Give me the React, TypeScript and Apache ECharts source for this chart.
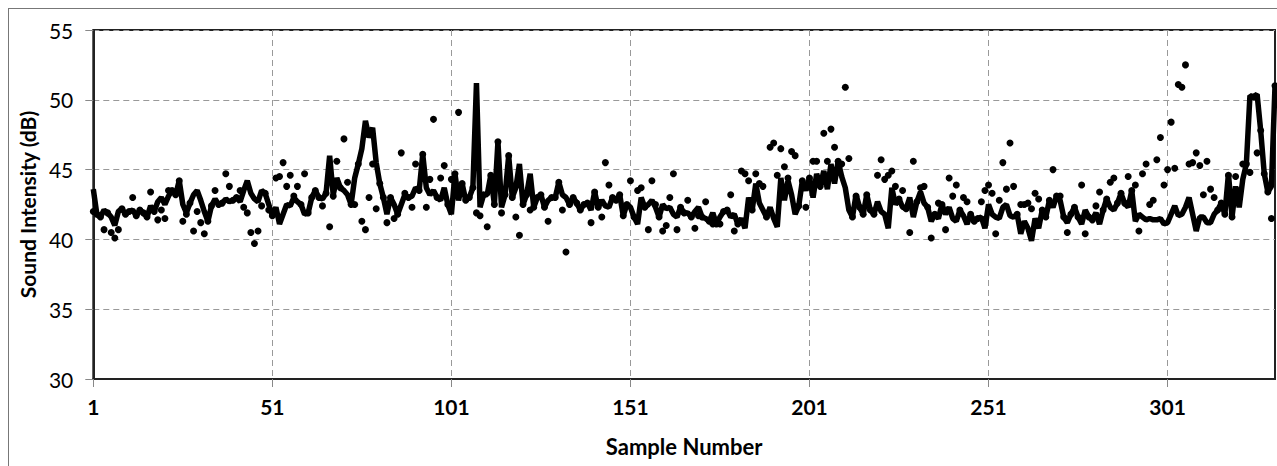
import { useEffect, useRef } from "react";
import * as echarts from "echarts";

const sampleNumbers: string[] = Array.from({ length: 331 }, (_, i) => String(i + 1));

const lineValues: number[] = [
  43.6, 41.8, 41.6, 42.1, 41.9, 41.6, 41.0, 42.0, 42.2, 41.8,
  42.0, 42.1, 41.7, 42.1, 41.9, 41.6, 42.4, 42.0, 42.7, 43.0,
  42.5, 43.1, 43.5, 43.2, 44.2, 42.5, 41.9, 42.6, 43.2, 43.5,
  42.8, 42.0, 41.3, 42.4, 42.9, 42.5, 42.6, 42.9, 42.7, 42.8,
  43.0, 42.7, 43.5, 44.2, 43.3, 42.9, 42.7, 43.5, 43.3, 42.5,
  41.7, 42.3, 41.1, 41.8, 42.5, 42.4, 43.0, 42.7, 42.5, 41.8,
  41.9, 43.0, 43.5, 43.0, 42.9, 43.3, 46.0, 43.2, 44.4, 43.7,
  43.5, 43.2, 42.5, 44.4, 45.4, 46.5, 48.5, 47.3, 48.0, 45.5,
  44.0, 43.0, 41.8, 43.0, 42.5, 41.8, 42.5, 43.2, 43.0, 43.1,
  43.7, 43.5, 46.1, 43.7, 43.2, 43.5, 43.0, 42.8, 43.7, 42.5,
  41.8, 44.7, 42.8, 44.0, 42.8, 43.0, 43.7, 51.2, 42.3, 43.2,
  43.2, 44.6, 42.5, 47.0, 42.3, 43.2, 46.0, 43.0, 43.7, 45.4,
  42.5, 43.2, 44.7, 42.3, 43.0, 43.2, 42.3, 42.8, 43.0, 43.0,
  44.1, 43.2, 43.0, 42.5, 43.0, 42.6, 42.1, 42.5, 42.6, 42.1,
  43.4, 42.3, 42.8, 42.4, 42.3, 43.0, 42.8, 43.2, 41.7, 42.5,
  42.3, 41.6, 41.1, 43.0, 42.3, 42.5, 42.8, 42.3, 41.6, 42.5,
  42.2, 42.3, 41.8, 41.6, 42.3, 41.9, 41.9, 41.6, 42.0, 42.3,
  41.6, 41.5, 41.3, 41.9, 41.1, 41.6, 42.0, 42.1, 41.6, 41.8,
  41.1, 41.5, 40.8, 43.0, 42.1, 44.0, 42.6, 42.1, 41.6, 42.3,
  41.5, 40.9, 44.4, 42.8, 44.2, 43.2, 41.8, 42.4, 44.2, 43.5,
  44.4, 43.0, 44.7, 43.8, 44.9, 43.6, 45.4, 44.0, 45.6, 44.5,
  43.7, 42.1, 41.6, 43.2, 42.3, 41.8, 43.2, 42.1, 41.8, 42.7,
  42.0, 41.8, 40.8, 43.7, 42.5, 42.9, 42.3, 42.2, 43.0, 41.6,
  42.7, 43.4, 42.6, 42.3, 41.3, 41.8, 41.5, 42.5, 41.8, 42.3,
  41.5, 41.3, 42.1, 41.7, 41.1, 41.8, 41.3, 41.5, 41.6, 40.8,
  42.5, 41.8, 41.6, 41.5, 42.3, 42.5, 41.7, 41.6, 41.8, 40.4,
  41.3, 40.8, 39.9, 41.5, 40.8, 42.1, 41.6, 42.8, 42.3, 43.1,
  42.8, 41.6, 41.2, 41.8, 42.3, 41.6, 41.1, 42.1, 41.6, 41.4,
  41.9, 41.1, 42.1, 42.9, 42.3, 42.1, 42.6, 43.3, 42.6, 42.3,
  43.5, 41.3, 41.8, 41.6, 41.4, 41.5, 41.4, 41.4, 41.5, 41.1,
  41.2, 41.8, 42.4, 41.7, 41.8, 42.3, 43.0, 41.8, 40.6, 41.6,
  41.6, 41.2, 41.2, 41.8, 42.1, 42.6, 41.8, 44.7, 41.6, 43.8,
  42.3, 44.3, 45.4, 50.3, 50.2, 50.4, 47.8, 44.7, 43.4, 43.8, 51.0,
];

const dotValues: number[] = [
  42.0, 41.8, 41.6, 40.7, 41.9, 40.5, 40.1, 40.7, 42.2, 41.8,
  42.0, 43.0, 41.7, 42.1, 41.9, 41.6, 43.4, 42.0, 41.4, 42.1,
  41.5, 43.5, 43.5, 43.2, 44.2, 41.3, 41.8, 42.6, 40.6, 42.0,
  41.2, 40.4, 41.3, 42.4, 43.5, 42.5, 42.6, 44.7, 43.8, 42.8,
  43.0, 43.5, 42.3, 41.9, 40.5, 39.7, 40.6, 42.4, 43.3, 42.1,
  41.7, 44.4, 44.5, 45.5, 43.8, 44.6, 43.1, 43.8, 42.5, 44.7,
  41.9, 43.0, 43.5, 43.0, 42.4, 43.3, 40.9, 43.1, 45.6, 43.7,
  47.2, 44.1, 42.5, 42.5, 45.4, 41.3, 40.7, 43.0, 45.4, 42.2,
  44.0, 43.0, 41.2, 43.0, 41.5, 41.8, 46.2, 43.3, 43.0, 42.3,
  45.4, 43.5, 46.1, 42.3, 44.3, 48.6, 43.0, 44.4, 45.3, 42.5,
  44.3, 44.7, 49.1, 44.0, 42.8, 43.0, 43.7, 41.9, 41.7, 43.2,
  40.9, 44.6, 42.5, 47.0, 41.9, 43.2, 46.0, 43.0, 41.6, 40.3,
  42.5, 43.2, 42.1, 42.3, 43.0, 43.2, 42.3, 41.3, 43.0, 43.0,
  44.1, 42.1, 39.1, 42.5, 43.0, 42.6, 42.1, 42.5, 42.6, 41.2,
  43.4, 42.3, 41.6, 45.5, 43.9, 43.0, 42.8, 43.2, 41.7, 42.5,
  44.2, 41.6, 43.5, 43.7, 42.3, 40.7, 44.2, 42.5, 41.6, 40.6,
  41.0, 43.0, 44.7, 40.7, 42.3, 41.9, 42.8, 41.6, 40.8, 41.7,
  41.6, 42.7, 41.3, 41.1, 41.1, 41.1, 42.0, 42.1, 43.2, 40.6,
  41.1, 44.9, 44.7, 44.2, 42.1, 44.7, 44.0, 43.8, 41.6, 46.6,
  46.9, 44.6, 46.5, 45.2, 44.4, 46.3, 46.0, 42.4, 44.2, 42.3,
  44.4, 45.6, 45.6, 43.8, 47.6, 45.6, 47.9, 46.6, 45.6, 45.4,
  50.9, 45.8, 41.6, 43.1, 42.3, 41.8, 43.2, 42.1, 41.8, 44.6,
  45.7, 44.3, 44.6, 44.9, 43.8, 42.9, 43.5, 42.2, 40.5, 45.6,
  42.7, 43.7, 43.8, 42.3, 40.1, 41.8, 42.6, 42.5, 40.7, 44.4,
  43.1, 43.9, 42.1, 43.0, 42.7, 41.8, 41.3, 41.5, 42.7, 43.5,
  43.9, 43.3, 40.4, 42.8, 45.5, 43.6, 46.9, 43.8, 41.8, 42.5,
  42.5, 42.6, 42.2, 43.3, 42.9, 42.1, 41.6, 42.8, 45.0, 43.1,
  43.1, 41.6, 40.5, 41.8, 42.3, 41.6, 43.9, 40.4, 41.6, 41.4,
  42.4, 43.4, 42.1, 42.9, 44.1, 44.4, 42.6, 43.3, 42.6, 44.5,
  43.5, 43.9, 40.6, 44.7, 45.4, 42.5, 42.8, 45.7, 47.3, 43.9,
  45.0, 48.4, 45.1, 51.1, 50.9, 52.5, 45.4, 45.5, 46.2, 45.3,
  43.2, 45.6, 43.6, 43.0, 42.1, 42.6, 41.8, 44.6, 41.6, 44.5,
  43.5, 45.4, 45.4, 44.8, 50.2, 46.2, 47.8, 44.7, 43.4, 41.5, 51.0,
];

const yMin = 30;
const yMax = 55;
const yStep = 5;
const xLabelEvery = 50;

const FONT = "Lato, 'Open Sans', sans-serif";
const everyFifty = (index: number) => index % xLabelEvery === 0;

export default function App() {
  const ref = useRef<HTMLDivElement>(null);

  useEffect(() => {
    if (!ref.current) return;
    const chart = echarts.init(ref.current, null, { renderer: "svg" });
    chart.setOption({
      animation: false,
      backgroundColor: "#ffffff",
      textStyle: { fontFamily: FONT },
      grid: {
        left: 84.3,
        top: 21,
        width: 1181.7,
        height: 349,
        show: true,
        borderColor: "#222",
        borderWidth: 2,
        backgroundColor: "transparent",
      },
      xAxis: {
        type: "category",
        data: sampleNumbers,
        boundaryGap: false,
        name: "Sample Number",
        nameLocation: "middle",
        nameGap: 56,
        nameTextStyle: { fontFamily: FONT, fontSize: 22, fontWeight: "bold", color: "#000" },
        axisLine: { lineStyle: { color: "#222", width: 2 } },
        axisTick: {
          show: true,
          interval: everyFifty,
          length: 8,
          lineStyle: { color: "#888", width: 1 },
        },
        axisLabel: {
          interval: everyFifty,
          hideOverlap: false,
          margin: 17,
          fontFamily: FONT,
          fontSize: 21,
          fontWeight: "bold",
          color: "#000",
        },
        splitLine: {
          show: true,
          interval: everyFifty,
          lineStyle: { color: "#999", type: [6, 4], width: 1 },
        },
      },
      yAxis: {
        type: "value",
        min: yMin,
        max: yMax,
        interval: yStep,
        name: "Sound Intensity (dB)",
        nameLocation: "middle",
        nameGap: 52,
        nameTextStyle: { fontFamily: FONT, fontSize: 21, fontWeight: "bold", color: "#000" },
        axisLine: { show: true, lineStyle: { color: "#222", width: 2 } },
        axisTick: { show: true, length: 8, lineStyle: { color: "#888", width: 1 } },
        axisLabel: { margin: 20, fontFamily: FONT, fontSize: 21, color: "#000" },
        splitLine: { show: true, lineStyle: { color: "#999", type: [6, 4], width: 1 } },
      },
      series: [
        {
          type: "scatter",
          data: dotValues,
          symbol: "circle",
          symbolSize: 7,
          itemStyle: { color: "#000", opacity: 1 },
          z: 2,
        },
        {
          type: "line",
          data: lineValues,
          showSymbol: false,
          symbol: "none",
          lineStyle: { color: "#000", width: 5.5 },
          z: 3,
        },
      ],
    });
    return () => chart.dispose();
  }, []);

  return (
    <div
      style={{
        position: "fixed",
        left: 8,
        top: 8,
        width: 1275,
        height: 470,
        border: "1px solid #777",
        background: "#fff",
      }}
    >
      <div ref={ref} style={{ width: 1275, height: 470 }} />
    </div>
  );
}
